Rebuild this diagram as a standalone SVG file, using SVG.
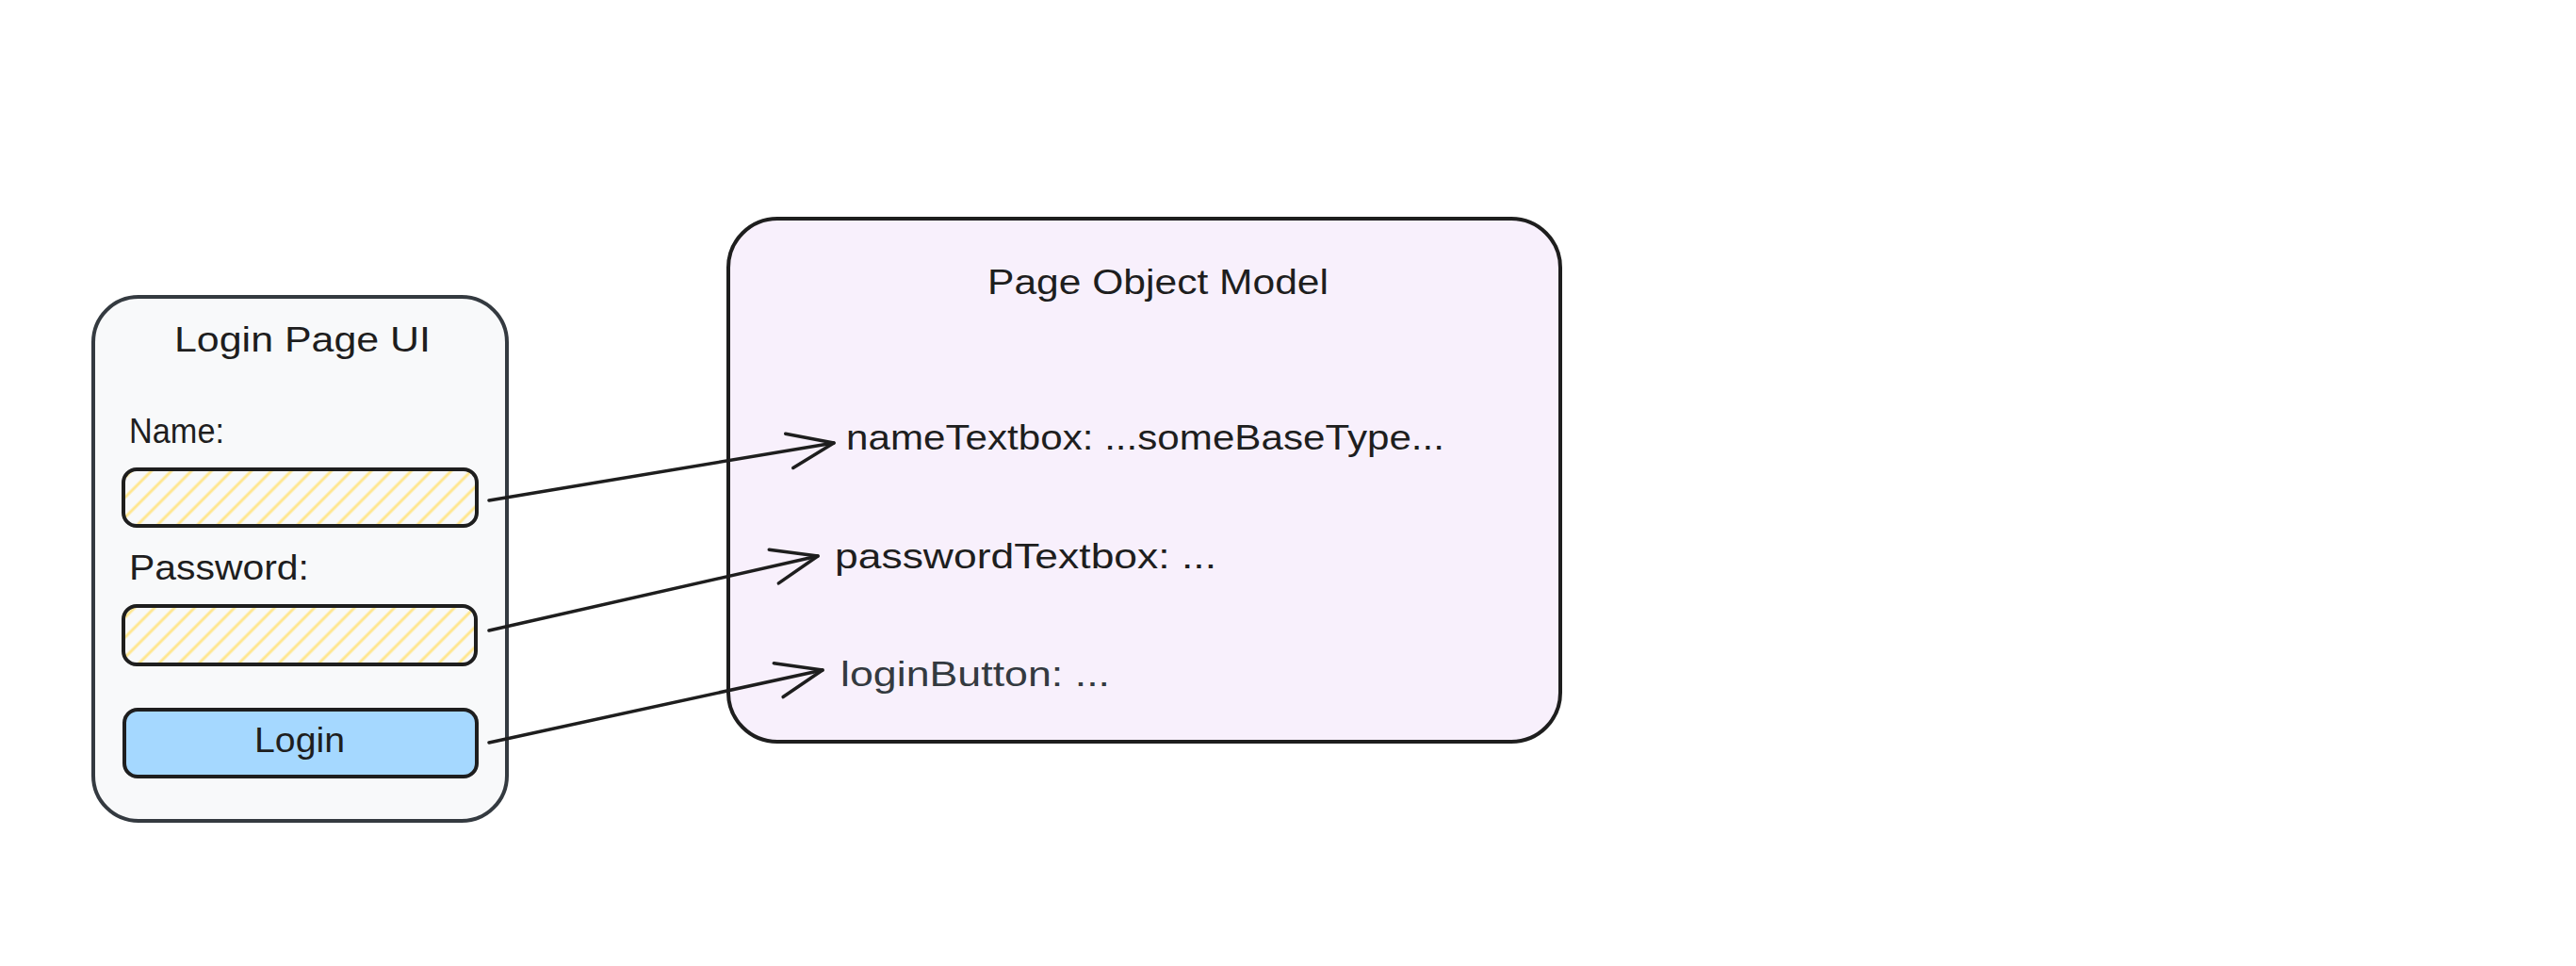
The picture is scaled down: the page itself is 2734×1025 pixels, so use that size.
<svg xmlns="http://www.w3.org/2000/svg" width="2734" height="1025" viewBox="0 0 2734 1025">
  <defs>
    <pattern id="hatch" patternUnits="userSpaceOnUse" width="15" height="15" patternTransform="rotate(45)">
      <line x1="2" y1="0" x2="2" y2="15" stroke="#ffe68f" stroke-width="3"/>
    </pattern>
    <marker id="arrow" viewBox="0 0 54 44" refX="51" refY="22" markerWidth="54" markerHeight="44" markerUnits="userSpaceOnUse" orient="auto">
      <path d="M2,4 L51,22 L4,41" fill="none" stroke="#1e1e1e" stroke-width="3.5" stroke-linecap="round" stroke-linejoin="round"/>
    </marker>
  </defs>
  <style>
    .t { font-family: "Liberation Sans", Arial, sans-serif; font-size: 36px; fill: #1e1e1e; }
    .field { fill: url(#hatch); stroke: #1e1e1e; stroke-width: 4; }
    .conn { fill: none; stroke: #1e1e1e; stroke-width: 3.5; stroke-linecap: round; marker-end: url(#arrow); }
  </style>
  <rect width="2734" height="1025" fill="#ffffff"/>

  <g id="login-page">
    <rect x="99" y="315" width="439" height="556" rx="48" fill="#f8f9fa" stroke="#343a40" stroke-width="4"/>
    <text class="t" x="321" y="373" text-anchor="middle" textLength="272" lengthAdjust="spacingAndGlyphs">Login Page UI</text>
  </g>

  <g id="name-label">
    <text class="t" x="137" y="470" textLength="101" lengthAdjust="spacingAndGlyphs">Name:</text>
  </g>
  <g id="name-textbox">
    <rect x="131" y="498" width="375" height="60" rx="14" fill="#f8f9fa"/>
    <rect class="field" x="131" y="498" width="375" height="60" rx="14"/>
  </g>

  <g id="password-label">
    <text class="t" x="137" y="615" textLength="191" lengthAdjust="spacingAndGlyphs">Password:</text>
  </g>
  <g id="password-textbox">
    <rect x="131" y="643" width="374" height="62" rx="14" fill="#f8f9fa"/>
    <rect class="field" x="131" y="643" width="374" height="62" rx="14"/>
  </g>

  <g id="login-button">
    <rect x="132" y="753" width="374" height="71" rx="14" fill="#a5d8ff" stroke="#1e1e1e" stroke-width="4"/>
    <text class="t" x="318" y="798" text-anchor="middle" textLength="96" lengthAdjust="spacingAndGlyphs">Login</text>
  </g>

  <g id="page-object-model">
    <rect x="773" y="232" width="883" height="555" rx="52" fill="#f8f0fc" stroke="#1e1e1e" stroke-width="4"/>
    <text class="t" x="1229" y="312" text-anchor="middle" textLength="362" lengthAdjust="spacingAndGlyphs">Page Object Model</text>
  </g>

  <g id="name-field">
    <text class="t" x="898" y="477" textLength="635" lengthAdjust="spacingAndGlyphs">nameTextbox: ...someBaseType...</text>
  </g>
  <g id="password-field">
    <text class="t" x="886" y="603" textLength="405" lengthAdjust="spacingAndGlyphs">passwordTextbox: ...</text>
  </g>
  <g id="login-field">
    <text class="t" x="892" y="728" textLength="286" lengthAdjust="spacingAndGlyphs" style="fill:#343a40">loginButton: ...</text>
  </g>

  <g id="connectors">
    <path class="conn" d="M519,531 L885,470"/>
    <path class="conn" d="M519,669 L868,590"/>
    <path class="conn" d="M519,788 L873,711"/>
  </g>
</svg>
